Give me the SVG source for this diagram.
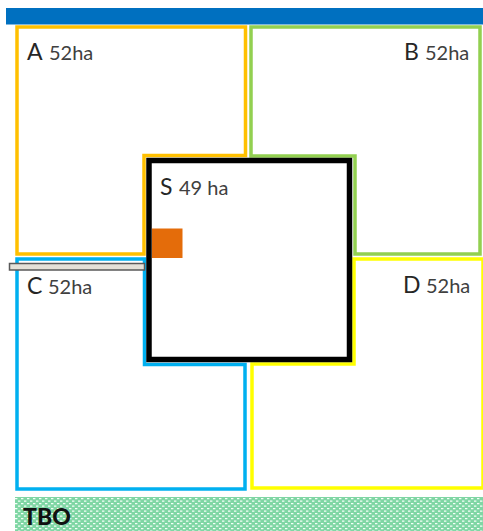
<svg xmlns="http://www.w3.org/2000/svg" width="483" height="531" viewBox="0 0 483 531">
<style>
.plot{fill:#fff;stroke-width:3.500;stroke-linejoin:miter}
.t{font-family:Lato,"Open Sans",sans-serif;fill:#262626}
.big{font-size:23px}
.small{font-size:20px;fill:#404040}
</style>
<defs>
<pattern id="dots" width="6" height="5" patternUnits="userSpaceOnUse">
<rect width="6" height="5" fill="#7fd6a4"/>
<path d="M0 1.200h2.400M3 3.700h2.400" stroke="#f4fff8" stroke-width="1.300"/>
</pattern>
</defs>
<rect width="483" height="531" fill="#fff"/>
<g id="plot-b"><path class="plot" stroke="#92d050" d="M251 27H480V254H355V156H251Z"/><text class="t big" x="404" y="60">B</text><text class="t small" x="425" y="60">52ha</text></g>
<g id="plot-a"><path class="plot" stroke="#ffc000" d="M17 27H245.500V155.500H144V254H17Z"/><text class="t big" x="27" y="60">A</text><text class="t small" x="49" y="60">52ha</text></g>
<g id="plot-d"><path class="plot" stroke="#ffff00" d="M354 259H483V488H252V364H354Z"/><text class="t big" x="403" y="293">D</text><text class="t small" x="426" y="293">52ha</text></g>
<g id="plot-c"><path class="plot" stroke="#00b0f0" d="M17 259H144.500V364.500H245V489H17Z"/><text class="t big" x="27" y="294">C</text><text class="t small" x="48" y="294">52ha</text></g>
<rect id="top-bar" x="6" y="8" width="477" height="16.500" fill="#0070c0"/>
<g id="plot-s"><rect x="149" y="160.500" width="200.500" height="199" fill="#fff" stroke="#000" stroke-width="5.500"/><text class="t big" x="160" y="195">S</text><text class="t small" x="179" y="195">49 ha</text></g>
<rect id="marker" x="152" y="228.500" width="30.500" height="29.500" fill="#e46c0a"/>
<rect id="road" x="9.500" y="263.500" width="135" height="6.500" fill="#e4e1d8" stroke="#595959" stroke-width="1.500"/>
<g id="tbo"><rect x="15" y="497" width="468" height="34" fill="url(#dots)"/><text x="23" y="525" font-family="Lato,'Open Sans',sans-serif" font-weight="900" font-size="23" fill="#111">TBO</text></g>
</svg>
